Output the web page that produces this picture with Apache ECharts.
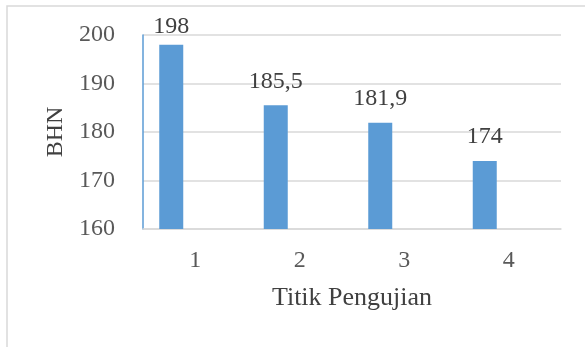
<!DOCTYPE html>
<html>
<head>
<meta charset="utf-8">
<script src="https://cdn.jsdelivr.net/npm/echarts@6/dist/echarts.min.js"></script>
<style>
  html, body { margin: 0; padding: 0; background: #ffffff; }
  #chart { width: 585px; height: 347px; }
</style>
</head>
<body>
<div id="chart"></div>
<script>
// ---- data ----
const categories = ['1', '2', '3', '4'];
const bhnValues = [198, 185.5, 181.9, 174];
const emptySeriesB = [];
const emptySeriesC = [];
const yAxisName = 'BHN';
const xAxisName = 'Titik Pengujian';
const yMin = 160;
const yMax = 200;
const yStep = 10;

// ---- chart ----
const chart = echarts.init(document.getElementById('chart'), null, { renderer: 'canvas' });
const fontFamily = '"Liberation Serif", "Times New Roman", serif';
const axisTextColor = '#595959';
const barColor = '#5B9BD5';

function fmt(v) { return String(v).replace('.', ','); }

const option = {
  backgroundColor: '#ffffff',
  animation: false,
  graphic: [{
    type: 'rect',
    shape: { x: 7, y: 6, width: 600, height: 400 },
    style: { fill: 'none', stroke: '#d9d9d9', lineWidth: 1.5 },
    silent: true
  }],
  grid: { left: 143, right: 24, top: 35, bottom: 118, containLabel: false },
  xAxis: {
    type: 'category',
    data: categories,
    name: xAxisName,
    nameLocation: 'middle',
    nameGap: 56,
    nameTextStyle: { fontFamily: fontFamily, fontSize: 26, color: '#404040' },
    axisLine: { show: true, lineStyle: { color: '#d9d9d9', width: 1.5 } },
    axisTick: { show: false },
    axisLabel: { margin: 20, fontFamily: fontFamily, fontSize: 24, color: axisTextColor },
    splitLine: { show: false }
  },
  yAxis: {
    type: 'value',
    min: yMin,
    max: yMax,
    interval: yStep,
    name: yAxisName,
    nameLocation: 'middle',
    nameRotate: 90,
    nameGap: 75,
    nameTextStyle: { fontFamily: fontFamily, fontSize: 24, color: '#404040' },
    axisLine: { show: true, lineStyle: { color: barColor, width: 1.5 } },
    axisTick: { show: false },
    axisLabel: { margin: 28, fontFamily: fontFamily, fontSize: 24, color: axisTextColor, formatter: fmt },
    splitLine: { show: true, lineStyle: { color: '#d9d9d9', width: 1.5 } }
  },
  series: [
    {
      type: 'bar',
      data: bhnValues.map(function (v, i) {
        return i === 0 ? { value: v, label: { distance: 6 } } : v;
      }),
      barWidth: 24,
      barGap: '0%',
      itemStyle: { color: barColor },
      label: {
        show: true,
        position: 'top',
        distance: 12,
        fontFamily: fontFamily,
        fontSize: 24,
        color: '#404040',
        formatter: function (p) { return fmt(p.value); }
      }
    },
    { type: 'bar', data: emptySeriesB, barWidth: 24, barGap: '0%' },
    { type: 'bar', data: emptySeriesC, barWidth: 24, barGap: '0%' }
  ]
};
chart.setOption(option);
</script>
</body>
</html>
